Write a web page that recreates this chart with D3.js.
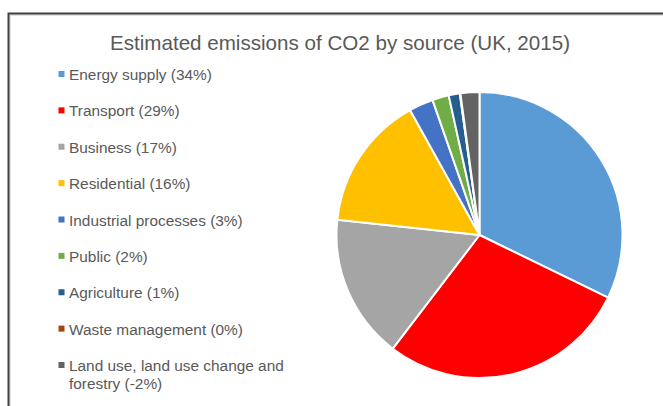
<!DOCTYPE html>
<html>
<head>
<meta charset="utf-8">
<script src="https://cdn.jsdelivr.net/npm/d3@7"></script>
<style>
  html, body { margin: 0; padding: 0; background: #fff; }
  svg { display: block; }
</style>
</head>
<body>
<svg id="chart" width="663" height="406"></svg>
<script>
// ---- data ----
const title = "Estimated emissions of CO2 by source (UK, 2015)";
const categories = [
  "Energy supply", "Transport", "Business", "Residential",
  "Industrial processes", "Public", "Agriculture", "Waste management",
  "Land use, land use change and forestry"
];
const percentLabels = ["34%", "29%", "17%", "16%", "3%", "2%", "1%", "0%", "-2%"];
// estimated emissions (MtCO2)
const emissions = [136.0, 118.9, 68.9, 64.3, 11.6, 7.9, 5.3, 0.3, -9.0];
const colors = ["#5B9BD5", "#FF0000", "#A5A5A5", "#FFC000", "#4472C4",
                "#70AD47", "#255E91", "#9E480E", "#636363"];

// ---- drawing ----
const svg = d3.select("#chart");
const W = 663, H = 406;

// frame
svg.append("rect").attr("x", 10).attr("y", 15).attr("width", W).attr("height", H)
  .attr("fill", "none").attr("stroke", "#d9d9d9").attr("stroke-width", 1.5);
svg.append("rect").attr("x", 8.5).attr("y", 13.5).attr("width", W).attr("height", H)
  .attr("fill", "none").attr("stroke", "#404040").attr("stroke-width", 2);

// title
svg.append("text")
  .attr("x", 340).attr("y", 50)
  .attr("text-anchor", "middle")
  .attr("font-family", "'Liberation Sans Narrow', 'Arial Narrow', sans-serif")
  .attr("font-size", 21)
  .attr("fill", "#595959")
  .attr("textLength", 460)
  .attr("lengthAdjust", "spacingAndGlyphs")
  .text(title);

// pie
const cx = 479.5, cy = 235, r = 143;
const pie = d3.pie().sort(null).value(d => Math.abs(d.v));
const arc = d3.arc().innerRadius(0).outerRadius(r);
const data = categories.map((c, i) => ({ c, v: emissions[i], color: colors[i] }));
const g = svg.append("g").attr("transform", `translate(${cx},${cy})`);
g.selectAll("path").data(pie(data)).join("path")
  .attr("d", arc)
  .attr("fill", d => d.data.color)
  .attr("stroke", "#fff")
  .attr("stroke-width", 2)
  .attr("stroke-linejoin", "round");

// legend
const legendY = d3.scalePoint().domain(categories).range([75, 366]);
const lg = svg.append("g")
  .attr("font-family", "'Liberation Sans', Arial, sans-serif")
  .attr("font-size", 15.4)
  .attr("fill", "#595959");
categories.forEach((c, i) => {
  const y = legendY(c);
  lg.append("rect").attr("x", 58.5).attr("y", y - 4).attr("width", 6).attr("height", 6)
    .attr("fill", colors[i]);
  const t = lg.append("text").attr("x", 69).attr("y", y + 5);
  if (i === categories.length - 1) {
    t.append("tspan").attr("x", 69).attr("dy", 0).text("Land use, land use change and");
    t.append("tspan").attr("x", 69).attr("dy", 18).text("forestry (" + percentLabels[i] + ")");
  } else {
    t.text(`${c} (${percentLabels[i]})`);
  }
});
</script>
</body>
</html>
